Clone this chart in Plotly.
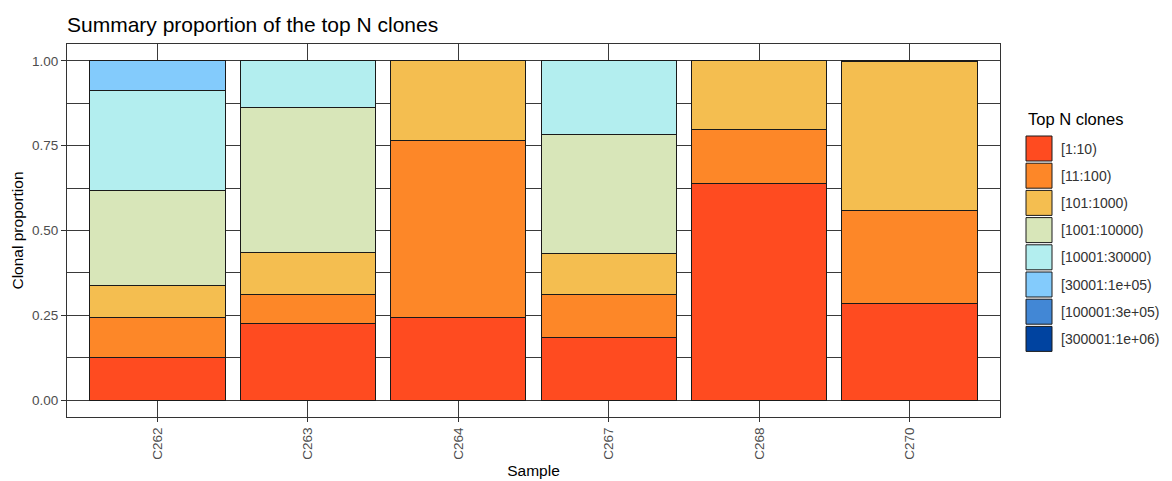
import plotly.graph_objects as go

# Samples and clone-rank groups
samples = ["C262", "C263", "C264", "C267", "C268", "C270"]
groups = ["[1:10)", "[11:100)", "[101:1000)", "[1001:10000)",
          "[10001:30000)", "[30001:1e+05)", "[100001:3e+05)", "[300001:1e+06)"]
colors = ["#FF4B20", "#FD8728", "#F4BE50", "#D8E6B9",
          "#B3EEEF", "#83CBFC", "#4287D5", "#0043A0"]

# Proportion of clones in each group, one list per group (ordered as samples)
p_1_10 = [0.126, 0.227, 0.242, 0.185, 0.639, 0.286]
p_11_100 = [0.118, 0.083, 0.522, 0.125, 0.160, 0.274]
p_101_1000 = [0.093, 0.124, 0.236, 0.122, 0.201, 0.437]
p_1001_10000 = [0.280, 0.430, 0.000, 0.350, 0.000, 0.003]
p_10001_30000 = [0.295, 0.136, 0.000, 0.218, 0.000, 0.000]
p_30001_1e5 = [0.088, 0.000, 0.000, 0.000, 0.000, 0.000]
p_100001_3e5 = [0.0, 0.0, 0.0, 0.0, 0.0, 0.0]
p_300001_1e6 = [0.0, 0.0, 0.0, 0.0, 0.0, 0.0]

series = [p_1_10, p_11_100, p_101_1000, p_1001_10000,
          p_10001_30000, p_30001_1e5, p_100001_3e5, p_300001_1e6]

y_ticks = [0.0, 0.25, 0.5, 0.75, 1.0]
y_tick_labels = ["0.00", "0.25", "0.50", "0.75", "1.00"]

fig = go.Figure()
for name, vals, col in zip(groups, series, colors):
    fig.add_trace(go.Bar(
        x=samples, y=vals, name=name, width=0.9,
        marker=dict(color=col, line=dict(color="#1a1a1a", width=1)),
        showlegend=False,
    ))

FONT = "Liberation Sans, Arial, sans-serif"
grid_col = "#3a3a3a"

# Legend drawn as key boxes with labels beside them
L, R, T, B = 67, 1000, 44, 417
W, H = R - L, B - T


def px_x(px):
    return (px - L) / W


def px_y(py):
    return (B - py) / H


shapes = []
annotations = [dict(
    text="Top N clones", x=px_x(1026), y=px_y(119), xref="paper", yref="paper",
    xanchor="left", yanchor="middle", showarrow=False,
    font=dict(family=FONT, size=16.5, color="black"))]
for i, (name, col) in enumerate(zip(groups, colors)):
    top = 136 + i * 27.2
    shapes.append(dict(
        type="rect", xref="paper", yref="paper",
        x0=px_x(1026), x1=px_x(1052), y0=px_y(top), y1=px_y(top + 25),
        fillcolor=col, line=dict(color="#1a1a1a", width=1)))
    annotations.append(dict(
        text=name, x=px_x(1059), y=px_y(top + 12.5), xref="paper", yref="paper",
        xanchor="left", yanchor="middle", showarrow=False,
        font=dict(family=FONT, size=14, color="#333333")))

fig.update_layout(
    barmode="stack",
    width=1172, height=481,
    margin=dict(l=L, r=1172 - R, t=T, b=481 - B),
    plot_bgcolor="white", paper_bgcolor="white",
    bargap=0.1,
    title=dict(text="Summary proportion of the top N clones",
               x=L / 1172, xanchor="left", y=1 - 25 / 481, yanchor="middle",
               font=dict(family=FONT, size=21, color="black")),
    shapes=shapes,
    annotations=annotations,
    xaxis=dict(
        range=[-0.6, 5.6], showgrid=True, gridcolor=grid_col, gridwidth=1,
        ticks="outside", ticklen=4, tickcolor="#333333", tickangle=-90,
        tickfont=dict(family=FONT, size=13.5, color="#4D4D4D"),
        showline=True, linecolor="#333333", linewidth=1, mirror=True,
        title=dict(text="Sample", font=dict(family=FONT, size=15.5, color="black"),
                   standoff=6),
        zeroline=False, automargin=False,
    ),
    yaxis=dict(
        range=[-0.05, 1.05], tickvals=y_ticks, ticktext=y_tick_labels,
        showgrid=True, gridcolor=grid_col, gridwidth=1,
        minor=dict(tickvals=[0.125, 0.375, 0.625, 0.875], showgrid=True,
                   gridcolor=grid_col, gridwidth=0.8),
        ticks="outside", ticklen=5, tickcolor="#333333",
        tickfont=dict(family=FONT, size=13.5, color="#4D4D4D"),
        showline=True, linecolor="#333333", linewidth=1, mirror=True,
        title=dict(text="Clonal proportion",
                   font=dict(family=FONT, size=15.5, color="black"), standoff=4),
        zeroline=False, automargin=False,
    ),
)

fig.write_html("out.html")
